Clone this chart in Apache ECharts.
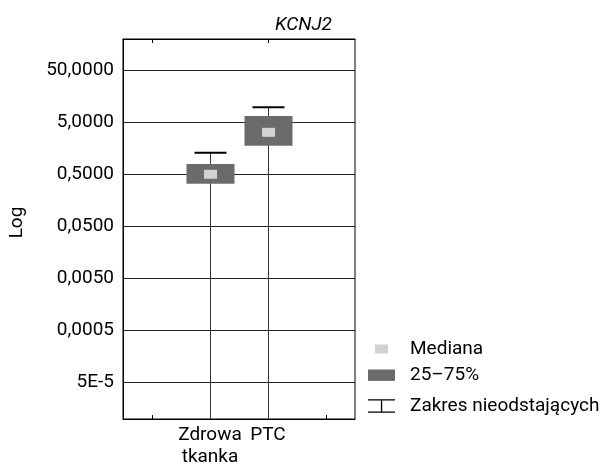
<!DOCTYPE html>
<html>
<head>
<meta charset="utf-8">
<script src="https://cdn.jsdelivr.net/npm/echarts@6/dist/echarts.min.js"></script>
<style>
html,body{margin:0;padding:0;background:#fff;}
#chart{width:606px;height:472px;}
</style>
</head>
<body>
<div id="chart"></div>
<script>
// ---- data ----
var categories = ['Zdrowa tkanka', 'PTC'];
var whiskerLow  = [0.00001, 0.00001];
var whiskerHigh = [1.31, 9.75];
var q1          = [0.332, 1.78];
var q3          = [0.793, 6.63];
var median      = [0.503, 3.22];
var tickValues  = [0.00005, 0.0005, 0.005, 0.05, 0.5, 5, 50];
var tickLabels  = ['5E-5', '0,0005', '0,0050', '0,0500', '0,5000', '5,0000', '50,0000'];
var titleText = 'KCNJ2';
var yName = 'Log';

var FONT = 'Roboto, "DejaVu Sans Condensed", sans-serif';
var FS = 19;
var axisCats = [''].concat(categories).concat(['']);

function labelFor(v) {
  for (var i = 0; i < tickValues.length; i++) {
    if (Math.abs(Math.log10(v) - Math.log10(tickValues[i])) < 1e-6) return tickLabels[i];
  }
  return '';
}

var chart = echarts.init(document.getElementById('chart'), null, {renderer: 'canvas'});

var legendText = {fontFamily: FONT, fontSize: FS, color: '#000', lineHeight: 22};

var option = {
  animation: false,
  backgroundColor: '#fff',
  title: {
    text: titleText,
    left: 275, top: 14, padding: 0,
    textStyle: {fontFamily: FONT, fontSize: FS, fontStyle: 'italic', fontWeight: 'normal', color: '#000', lineHeight: 22}
  },
  grid: {left: 123, right: 251, top: 39, bottom: 53, show: true, borderColor: '#000', borderWidth: 1, backgroundColor: 'transparent'},
  legend: [
    {
      left: 368, top: 338, padding: 0, orient: 'vertical', itemWidth: 37, itemHeight: 13, selectedMode: false,
      textStyle: legendText,
      data: [{name: 'Mediana', icon: 'path://M0,0 M37,13 M7,2 h13 v9 h-13 Z'}]
    },
    {
      left: 368, top: 364, padding: 0, orient: 'vertical', itemWidth: 37, itemHeight: 12, selectedMode: false,
      textStyle: legendText,
      data: [{name: '25–75%', icon: 'path://M0,0 M37,12 M0,0.5 h27 v11.4 h-27 Z'}]
    },
    {
      left: 368, top: 395, padding: 0, orient: 'vertical', itemWidth: 37, itemHeight: 14, selectedMode: false,
      textStyle: legendText,
      data: [{name: 'Zakres nieodstających', icon: 'path://M0,0 M37,14 M0,0.3 h27 v1.3 h-27 Z M0,12.4 h27 v1.3 h-27 Z M12.9,1.6 h1.3 v10.8 h-1.3 Z'}]
    }
  ],
  xAxis: [
    {
      type: 'category', data: axisCats, position: 'bottom',
      axisLine: {show: true, lineStyle: {color: '#000', width: 1}},
      axisTick: {show: true, inside: true, length: 4, alignWithLabel: true, lineStyle: {color: '#000'}},
      axisLabel: {show: true, interval: 0, margin: 5, fontFamily: FONT, fontSize: FS, lineHeight: 22, color: '#000',
        formatter: function (v) { return v.replace(' ', '\n'); }},
      splitLine: {show: false}
    },
    {
      type: 'category', data: axisCats, position: 'top',
      axisLine: {show: true, lineStyle: {color: '#000', width: 1}},
      axisTick: {show: true, inside: true, length: 4, alignWithLabel: true, lineStyle: {color: '#000'}},
      axisLabel: {show: false},
      splitLine: {show: false}
    }
  ],
  yAxis: {
    type: 'log', logBase: 10, min: 0.00001, max: 200,
    axisLine: {show: true, lineStyle: {color: '#000'}},
    axisTick: {show: false, customValues: tickValues},
    axisLabel: {show: true, customValues: tickValues, margin: 9, fontFamily: FONT, fontSize: FS, color: '#000',
      formatter: function (v) { return labelFor(v); }},
    splitLine: {show: true, customValues: tickValues, lineStyle: {color: '#222', width: 1}},
    minorSplitLine: {show: false}
  },
  graphic: [
    {type: 'text', x: 17, y: 222.5, rotation: Math.PI / 2,
      style: {text: yName, fontFamily: FONT, fontSize: FS, fill: '#000', align: 'center', verticalAlign: 'middle'}}
  ],
  series: [
    {
      name: 'Zakres nieodstających', type: 'custom', z: 3, clip: true,
      itemStyle: {color: '#000'},
      encode: {x: 0, y: [1, 2]},
      data: categories.map(function (c, i) { return [c, whiskerLow[i], whiskerHigh[i]]; }),
      renderItem: function (params, api) {
        var x = api.value(0);
        var hi = api.coord([x, api.value(2)]);
        var lo = api.coord([x, api.value(1)]);
        var cx = Math.round(hi[0]) + 0.5;
        var children = [
          {type: 'line', shape: {x1: cx, y1: hi[1], x2: cx, y2: lo[1]}, style: {stroke: '#333', lineWidth: 1}}
        ];
        var rect = params.coordSys;
        var addCap = function (p) {
          if (p[1] > rect.y + 0.5 && p[1] < rect.y + rect.height - 0.5) {
            children.push({type: 'line', shape: {x1: cx - 16, y1: p[1], x2: cx + 16, y2: p[1]}, style: {stroke: '#000', lineWidth: 2}});
          }
        };
        addCap(hi); addCap(lo);
        return {type: 'group', children: children};
      }
    },
    {
      name: '25–75%', type: 'custom', z: 4,
      itemStyle: {color: '#6b6b6b'},
      encode: {x: 0, y: [1, 2]},
      data: categories.map(function (c, i) { return [c, q1[i], q3[i]]; }),
      renderItem: function (params, api) {
        var x = api.value(0);
        var top = api.coord([x, api.value(2)]);
        var bot = api.coord([x, api.value(1)]);
        var cx = Math.round(top[0]) + 0.5;
        return {type: 'rect', shape: {x: cx - 24, y: top[1], width: 48, height: bot[1] - top[1]},
          style: {fill: '#6b6b6b'}};
      }
    },
    {
      name: 'Mediana', type: 'custom', z: 5,
      itemStyle: {color: '#d2d2d2'},
      encode: {x: 0, y: 1},
      data: categories.map(function (c, i) { return [c, median[i]]; }),
      renderItem: function (params, api) {
        var x = api.value(0);
        var p = api.coord([x, api.value(1)]);
        var cx = Math.round(p[0]) + 0.5;
        return {type: 'rect', shape: {x: cx - 6.5, y: p[1] - 4.5, width: 13, height: 9},
          style: {fill: '#d2d2d2'}};
      }
    }
  ]
};
chart.setOption(option);
</script>
</body>
</html>
